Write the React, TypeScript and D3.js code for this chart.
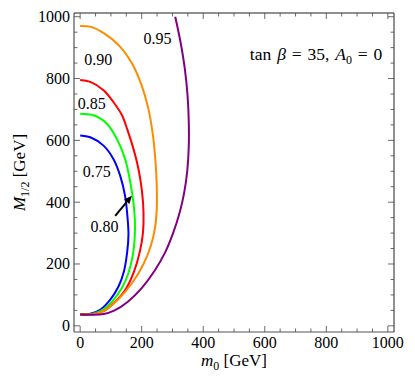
import React from 'react';
import * as d3 from 'd3';

// contour values and their colours
const levels = ['0.75', '0.80', '0.85', '0.90', '0.95'];
const colors = ['#0000ff', '#00ff00', '#ff0000', '#ff8a00', '#800080'];

// points, [m0, M1/2] in GeV
const blue075 = [[0,616],[33,610],[76,583],[108,540],[130,486],[146,420],[154,350],[157,295],[153,240],[142,175],[125,128],[98,85],[65,52],[33,39],[0,37]];
const green080 = [[0,686],[43,681],[87,654],[119,605],[146,540],[163,464],[173,400],[178,340],[177,280],[171,228],[157,171],[136,123],[105,80],[76,53],[45,40],[0,37]];
const red085 = [[0,795],[33,789],[76,762],[108,724],[136,681],[155,630],[174,570],[190,505],[201,435],[206,365],[204,300],[194,240],[175,175],[148,118],[112,76],[78,48],[45,38],[0,37]];
const orange090 = [[0,970],[35,967],[78,946],[128,905],[170,846],[199,780],[221,705],[236,620],[245,530],[249,450],[249,380],[243,315],[230,260],[206,200],[170,140],[128,90],[88,55],[55,40],[0,37]];
const purple095 = [[309,1000],[326,919],[340,833],[349,746],[353,660],[353,580],[348,500],[338,430],[323,365],[302,300],[275,235],[242,178],[200,122],[155,78],[112,50],[76,38],[40,36],[0,37]];
const curves = [blue075, green080, red085, orange090, purple095];

// where the contour labels sit
const labelPos = [[54,499],[79,321],[38,718],[59,861],[251,928]];
const arrowFrom = [114,356];
const arrowTo = [168,421];

const xTicks = [0, 200, 400, 600, 800, 1000];
const yTicks = [0, 200, 400, 600, 800, 1000];
const minorTicks = d3.range(0, 1001, 50);

export default function App() {
  const x = d3.scaleLinear().domain([-20, 1020]).range([74, 394]);
  const y = d3.scaleLinear().domain([-20, 1012]).range([332, 13]);
  const [x0, x1] = x.range();
  const [y0, y1] = y.range();

  const line = d3.line<number[]>()
    .x(d => x(d[0]))
    .y(d => y(d[1]))
    .curve(d3.curveCatmullRom.alpha(0.5));

  const font = "'Liberation Serif', 'Times New Roman', serif";

  // arrow geometry
  const ax0 = x(arrowFrom[0]), ay0 = y(arrowFrom[1]);
  const ax1 = x(arrowTo[0]), ay1 = y(arrowTo[1]);
  const ang = Math.atan2(ay1 - ay0, ax1 - ax0);
  const hl = 8, hw = 3.5;
  const bx = ax1 - hl * Math.cos(ang), by = ay1 - hl * Math.sin(ang);
  const head = [
    [ax1, ay1],
    [bx + hw * Math.sin(ang), by - hw * Math.cos(ang)],
    [bx - hw * Math.sin(ang), by + hw * Math.cos(ang)],
  ];

  return (
    <svg width={415} height={389} style={{position: 'absolute', left: 0, top: 0, background: '#fff', fontFamily: font}}>
      {curves.map((c, i) => (
        <path key={i} d={line(c) || ''} fill="none" stroke={colors[i]} strokeWidth={2} strokeLinejoin="round" />
      ))}

      {levels.map((l, i) => (
        <text key={l} x={x(labelPos[i][0])} y={y(labelPos[i][1])} fontSize={16} textAnchor="middle" dominantBaseline="central">{l}</text>
      ))}

      <line x1={ax0} y1={ay0} x2={bx} y2={by} stroke="#000" strokeWidth={2} />
      <polygon points={head.map(p => p.join(',')).join(' ')} fill="#000" />

      {/* frame */}
      <line x1={x0} y1={y0} x2={x1} y2={y0} stroke="#555" strokeWidth={1.2} />
      <line x1={x0} y1={y0} x2={x0} y2={y1} stroke="#555" strokeWidth={1.2} />
      <line x1={x0} y1={y1} x2={x1} y2={y1} stroke="#222" strokeWidth={1} />
      <line x1={x1} y1={y0} x2={x1} y2={y1} stroke="#222" strokeWidth={1} />

      {minorTicks.map(t => {
        const major = t % 200 === 0;
        const len = major ? 6 : 3.5;
        return (
          <g key={t} stroke="#444" strokeWidth={0.8}>
            <line x1={x(t)} y1={y0} x2={x(t)} y2={y0 - len} />
            <line x1={x(t)} y1={y1} x2={x(t)} y2={y1 + len} />
            <line x1={x0} y1={y(t)} x2={x0 + len} y2={y(t)} />
            <line x1={x1} y1={y(t)} x2={x1 - len} y2={y(t)} />
          </g>
        );
      })}

      {xTicks.map(t => (
        <text key={t} x={x(t)} y={y0 + 16} fontSize={16} textAnchor="middle">{t}</text>
      ))}
      {yTicks.map(t => (
        <text key={t} x={x0 - 4} y={y(t) + 5.5} fontSize={16} textAnchor="end">{t}</text>
      ))}

      {/* axis titles */}
      <text x={(x0 + x1) / 2} y={366} fontSize={17} textAnchor="middle">
        <tspan fontStyle="italic">m</tspan><tspan fontSize={12} dy={4}>0</tspan><tspan dy={-4}> [GeV]</tspan>
      </text>
      <text transform={`translate(25,${(y0 + y1) / 2}) rotate(-90)`} fontSize={17} textAnchor="middle">
        <tspan fontStyle="italic">M</tspan><tspan fontSize={12} dy={4}>1/2</tspan><tspan dy={-4}> [GeV]</tspan>
      </text>

      <text x={x(982)} y={y(861)} fontSize={17.5} textAnchor="end" wordSpacing={1.5}>
        tan <tspan fontStyle="italic">β</tspan> = 35, <tspan fontStyle="italic">A</tspan><tspan fontSize={12} dy={4}>0</tspan><tspan dy={-4}> = 0</tspan>
      </text>
    </svg>
  );
}
